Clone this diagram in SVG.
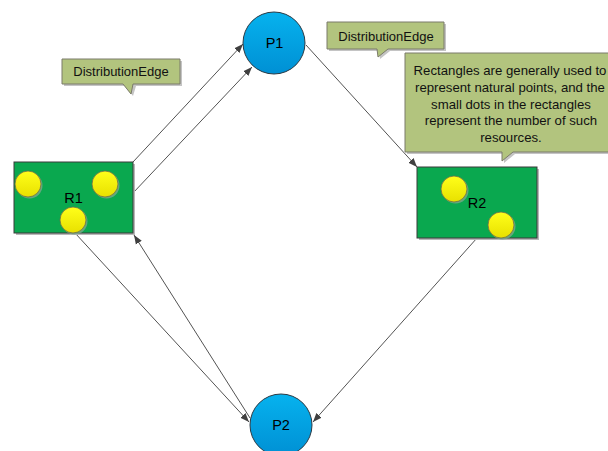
<svg xmlns="http://www.w3.org/2000/svg" width="608" height="451" viewBox="0 0 608 451">
  <defs>
    <linearGradient id="blueFill" x1="0" y1="0" x2="0" y2="1">
      <stop offset="0" stop-color="#06b2ee"/>
      <stop offset="1" stop-color="#0090d4"/>
    </linearGradient>
    <linearGradient id="yellowFill" x1="0" y1="0" x2="0" y2="1">
      <stop offset="0" stop-color="#ffff1a"/>
      <stop offset="1" stop-color="#e8e000"/>
    </linearGradient>
    <marker id="arrow" markerUnits="userSpaceOnUse" markerWidth="10" markerHeight="8" refX="9" refY="4" orient="auto">
      <path d="M0,0.5 L9,4 L0,7.5 z" fill="#404040"/>
    </marker>
    <style>
      .lbl { font-family: "Liberation Sans", Arial, sans-serif; font-size: 14.5px; fill: #000; text-anchor: middle; }
      .note { font-family: "Liberation Sans", Arial, sans-serif; font-size: 13px; fill: #111; text-anchor: middle; }
      .big { font-family: "Liberation Sans", Arial, sans-serif; font-size: 13.2px; fill: #111; text-anchor: middle; }
      .area { fill: #0aa84f; stroke: #3a3a3a; stroke-width: 1; }
      .areaShadow { fill: #b8b8b8; }
      .dot { fill: url(#yellowFill); stroke: #6b6b4a; stroke-width: 0.8; }
      .dotShadow { fill: #7aa88a; opacity: 0.8; }
      .place { fill: url(#blueFill); stroke: #2d3a44; stroke-width: 1; }
      .callout { fill: #b2c47e; stroke: #7b7b6a; stroke-width: 1; }
      .calloutShadow { fill: #c4c4c4; }
      .edge { fill: none; stroke: #404040; stroke-width: 0.9; marker-end: url(#arrow); }
    </style>
  </defs>

  <rect width="608" height="451" fill="#ffffff"/>

  <!-- connectors -->
  <g id="connectors">
    <line class="edge" x1="133" y1="162" x2="243" y2="44"/>
    <line class="edge" x1="133" y1="193" x2="252" y2="67"/>
    <line class="edge" x1="306" y1="45" x2="417" y2="167"/>
    <line class="edge" x1="477" y1="238" x2="313" y2="422"/>
    <line class="edge" x1="75" y1="233" x2="249" y2="422"/>
    <line class="edge" x1="250" y1="418" x2="134" y2="235"/>
  </g>

  <!-- callouts -->
  <g id="note-edge-left">
    <path class="calloutShadow" d="M64,61 H182 V86 H136 L133,96 L125,86 H64 Z"/>
    <path class="callout" d="M62,59 H180 V84 H133 L131,94 L123,84 H62 Z"/>
    <text class="note" x="121" y="76">DistributionEdge</text>
  </g>
  <g id="note-edge-top">
    <path class="calloutShadow" d="M329,24 H446 V51 H390 L380,59 L379,51 H329 Z"/>
    <path class="callout" d="M327,22 H444 V49 H388 L378,57 L377,49 H327 Z"/>
    <text class="note" x="386" y="40.5">DistributionEdge</text>
  </g>
  <g id="note-areas">
    <path class="calloutShadow" d="M407,55 H622 V154 H515 L504,163 L504,154 H407 Z"/>
    <path class="callout" d="M405,53 H620 V152 H513 L502,161 L502,152 H405 Z"/>
    <text class="big" x="510" y="75">Rectangles are generally used to</text>
    <text class="big" x="510" y="91.8">represent natural points, and the</text>
    <text class="big" x="511" y="108.6">small dots in the rectangles</text>
    <text class="big" x="511" y="125.4">represent the number of such</text>
    <text class="big" x="511" y="142.2">resources.</text>
  </g>

  <!-- area R1 -->
  <g id="R1">
    <rect class="areaShadow" x="16" y="164" width="119" height="71"/>
    <rect class="area" x="14" y="162" width="119" height="71"/>
    <circle class="dotShadow" cx="29.5" cy="185.5" r="13"/>
    <circle class="dot" cx="28" cy="184" r="13"/>
    <circle class="dotShadow" cx="106.5" cy="185.5" r="13"/>
    <circle class="dot" cx="105" cy="184" r="13"/>
    <text class="lbl" x="73.5" y="203">R1</text>
    <circle class="dotShadow" cx="74.5" cy="221.5" r="13"/>
    <circle class="dot" cx="73" cy="220" r="13"/>
  </g>

  <!-- area R2 -->
  <g id="R2">
    <rect class="areaShadow" x="419" y="169" width="120" height="71"/>
    <rect class="area" x="417" y="167" width="120" height="71"/>
    <circle class="dotShadow" cx="455.5" cy="190.5" r="13"/>
    <circle class="dot" cx="454" cy="189" r="13"/>
    <text class="lbl" x="477" y="208">R2</text>
    <circle class="dotShadow" cx="502.5" cy="226.5" r="13"/>
    <circle class="dot" cx="501" cy="225" r="13"/>
  </g>

  <!-- places -->
  <g id="P1">
    <circle class="place" cx="274" cy="43" r="31"/>
    <text class="lbl" x="274.5" y="48">P1</text>
  </g>
  <g id="P2">
    <circle class="place" cx="281" cy="425" r="31"/>
    <text class="lbl" x="281" y="430">P2</text>
  </g>
</svg>
